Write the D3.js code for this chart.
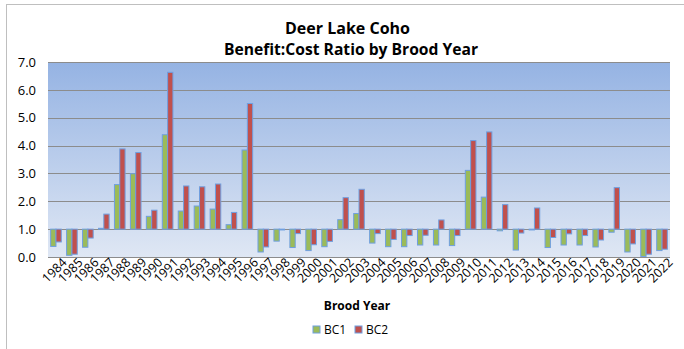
<!DOCTYPE html>
<html>
<head>
<meta charset="utf-8">
<script src="https://cdn.jsdelivr.net/npm/d3@7"></script>
<style>
  body { margin: 0; background: #fff; }
  text { font-family: "Open Sans", "Liberation Sans", sans-serif; }
</style>
</head>
<body>
<script>
// data
const years = d3.range(1984, 2023).map(String);
const bc1 = [0.38, 0.06, 0.35, 1.03, 2.60, 2.99, 1.46, 4.39, 1.65, 1.83, 1.72, 1.16,
             3.84, 0.18, 0.57, 0.34, 0.23, 0.37, 1.34, 1.56, 0.50, 0.37, 0.37, 0.43,
             0.43, 0.41, 3.11, 2.15, 0.94, 0.25, 0.98, 0.34, 0.43, 0.43, 0.36, 0.89,
             0.18, 0.02, 0.23];
const bc2 = [0.54, 0.10, 0.68, 1.54, 3.88, 3.75, 1.68, 6.63, 2.55, 2.52, 2.62, 1.60,
             5.51, 0.36, 0.98, 0.84, 0.44, 0.56, 2.13, 2.43, 0.84, 0.63, 0.77, 0.78,
             1.33, 0.77, 4.18, 4.49, 1.88, 0.86, 1.76, 0.70, 0.83, 0.77, 0.61, 2.49,
             0.47, 0.10, 0.28];
const yTicks = [0, 1, 2, 3, 4, 5, 6, 7];
const seriesNames = ["BC1", "BC2"];
const colors = ["#9bbb59", "#c0504d"];

const W = 684, H = 349;
const margin = {left: 48, right: 14, top: 62, bottom: 92};
const width = W - margin.left - margin.right;
const height = H - margin.top - margin.bottom;

const svg = d3.select("body").append("svg")
  .attr("width", W).attr("height", H);

// outer frame
svg.append("rect")
  .attr("x", 6.5).attr("y", 4.5)
  .attr("width", W + 10).attr("height", H + 10)
  .attr("fill", "none").attr("stroke", "#bfbfbf");

const grad = svg.append("defs").append("linearGradient")
  .attr("id", "bg").attr("x1", 0).attr("y1", 0).attr("x2", 0).attr("y2", 1);
grad.append("stop").attr("offset", "0%").attr("stop-color", "#95b3e3");
grad.append("stop").attr("offset", "100%").attr("stop-color", "#dfe7f4");

const g = svg.append("g")
  .attr("transform", "translate(" + margin.left + "," + margin.top + ")");

g.append("rect")
  .attr("width", width).attr("height", height)
  .attr("fill", "url(#bg)");

const y = d3.scaleLinear().domain([0, 7]).range([height, 0]);
const x = d3.scaleBand().domain(years).range([0, width])
  .paddingInner(1 / 3).paddingOuter(1 / 6);
const xs = d3.scaleBand().domain(seriesNames).range([0, x.bandwidth()]);

// gridlines
g.selectAll(".grid").data(yTicks).enter().append("line")
  .attr("x1", 0).attr("x2", width)
  .attr("y1", d => Math.round(y(d)) + 0.5).attr("y2", d => Math.round(y(d)) + 0.5)
  .attr("stroke", "#8c8c8c").attr("stroke-width", 1);

// y axis labels
const yAxis = d3.axisLeft(y).tickValues(yTicks).tickFormat(d3.format(".1f")).tickSize(0).tickPadding(12);
g.append("g").call(yAxis)
  .call(a => a.select(".domain").remove())
  .selectAll("text")
  .attr("font-size", 13).attr("fill", "#000")
  .style("font-family", "'Open Sans', sans-serif");

// bars, based at 1.0
const series = [bc1, bc2];
series.forEach((vals, si) => {
  g.selectAll(".bar" + si).data(vals).enter().append("rect")
    .attr("x", (d, i) => x(years[i]) + xs(seriesNames[si]))
    .attr("y", d => y(Math.max(d, 1)))
    .attr("width", xs.bandwidth())
    .attr("height", d => Math.max(Math.abs(y(d) - y(1)), 0.8))
    .attr("fill", colors[si])
    .attr("stroke", "#6f9fe0").attr("stroke-width", 1);
});

// x axis labels
const xAxis = d3.axisBottom(x).tickSize(0).tickPadding(2);
g.append("g").attr("transform", "translate(0," + height + ")")
  .call(xAxis)
  .call(a => a.select(".domain").remove())
  .selectAll("text")
  .attr("font-size", 12.5).attr("fill", "#000")
  .style("font-family", "'Open Sans', sans-serif")
  .attr("text-anchor", "end")
  .attr("dx", "0.3em").attr("dy", "0.85em")
  .attr("transform", "rotate(-45)");

// titles
svg.append("text").attr("x", 347.5).attr("y", 34)
  .attr("text-anchor", "middle").attr("font-size", 15.5).attr("font-weight", "bold")
  .attr("textLength", 125).attr("lengthAdjust", "spacingAndGlyphs")
  .text("Deer Lake Coho");
svg.append("text").attr("x", 351).attr("y", 54.5)
  .attr("text-anchor", "middle").attr("font-size", 15.5).attr("font-weight", "bold")
  .attr("textLength", 254).attr("lengthAdjust", "spacingAndGlyphs")
  .text("Benefit:Cost Ratio by Brood Year");

svg.append("text").attr("x", 357).attr("y", 310)
  .attr("text-anchor", "middle").attr("font-size", 12).attr("font-weight", "bold")
  .text("Brood Year");

// legend
const legend = svg.append("g").attr("transform", "translate(313,326)");
seriesNames.forEach((name, i) => {
  const lg = legend.append("g").attr("transform", "translate(" + (i * 42) + ",0)");
  lg.append("rect").attr("width", 7).attr("height", 7)
    .attr("fill", colors[i]).attr("stroke", "#6f9fe0");
  lg.append("text").attr("x", 11).attr("y", 8).attr("font-size", 12).text(name);
});
</script>
</body>
</html>
